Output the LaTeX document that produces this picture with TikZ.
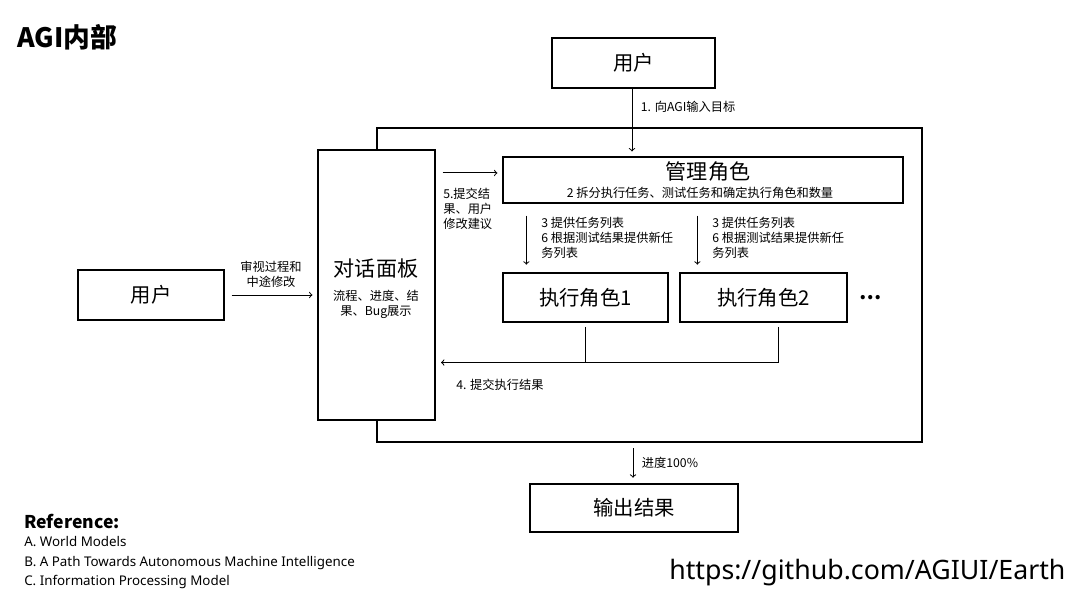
\documentclass[tikz,border=0pt]{standalone}
\usepackage{fontspec}
\setmainfont{Noto Sans CJK SC}
\newfontfamily\latinfont{Noto Sans}
\usetikzlibrary{positioning}

\tikzset{
  box/.style={draw, line width=0.9pt, fill=white, inner sep=0pt},
  big/.style={font=\fontsize{14.5}{17}\selectfont},
  lbl/.style={font=\fontsize{8.7}{10.7}\selectfont, inner sep=0pt, align=left},
  arr/.style={->, line width=0.7pt},
  link/.style={line width=0.7pt}
}

\begin{document}
\begin{tikzpicture}[x=0.025cm, y=-0.025cm]
	\useasboundingbox (0,0) rectangle (1080,608);
	% title
	\node[anchor=west, inner sep=0pt, font=\fontsize{19}{22}\selectfont\bfseries] (title) at (17,37) {AGI内部};
	% outer frame
	\node[box, fill=none, minimum width=13.625cm, minimum height=7.85cm] (agi) at (649.5,285) {};
	% boxes
	\node[box, big, minimum width=4.075cm, minimum height=1.25cm] (user1) at (633.5,63) {用户};
	\node[box, big, minimum width=3.65cm, minimum height=1.25cm] (user2) at (151,295) {用户};
	\node[box, minimum width=2.925cm, minimum height=6.75cm] (panel) at (376.5,285) {};
	\node[big, font=\fontsize{15}{18}\selectfont] (paneltitle) at (376,268) {对话面板};
	\node[lbl, align=center] (panelsub) at (376,304) {流程、进度、结\\果、Bug展示};
	\node[box, minimum width=10cm, minimum height=1.15cm] (mgr) at (703,180) {};
	\node[big, font=\fontsize{15}{18}\selectfont] (mgrtitle) at (708,172) {管理角色};
	\node[lbl] (mgrsub) at (700,193) {2 拆分执行任务、测试任务和确定执行角色和数量};
	\node[box, big, minimum width=4.125cm, minimum height=1.225cm] (exec1) at (585.5,297.5) {执行角色1};
	\node[box, big, minimum width=4.175cm, minimum height=1.225cm] (exec2) at (763.5,297.5) {执行角色2};
	\node[big, font=\fontsize{14}{17}\selectfont\bfseries] (more) at (871,298) {…};
	\node[box, big, minimum width=5.2cm, minimum height=1.2cm] (out) at (634,508) {输出结果};
	\coordinate (ret) at (441,362.5);

	% connectors
	\draw[arr, shorten >=3.5pt] (user1.south -| 632,0) -- (mgr.north -| 632,0) node[lbl, pos=0.27, right=6pt] {1. 向AGI输入目标};
	\draw[arr, shorten <=5pt, shorten >=3.5pt] (user2.east) -- (user2.east -| panel.west) node[lbl, align=center, midway, above=5pt] {审视过程和\\中途修改};
	\draw[arr, shorten <=5pt, shorten >=3.5pt] ([yshift=5pt]panel.east |- mgr.west) -- ([yshift=5pt]mgr.west);
	\node[lbl, anchor=north west] (sublbl) at (443,188) {5.提交结\\果、用户\\修改建议};
	\draw[arr, shorten <=8.5pt, shorten >=5.5pt] ([xshift=0.6cm]exec1.north west |- mgr.south) -- ([xshift=0.6cm]exec1.north west);
	\node[lbl, anchor=north west] (task1) at (541,217) {3 提供任务列表\\6 根据测试结果提供新任\\务列表};
	\draw[arr, shorten <=8.5pt, shorten >=5.5pt] ([xshift=0.45cm]exec2.north west |- mgr.south) -- ([xshift=0.45cm]exec2.north west);
	\node[lbl, anchor=north west] (task2) at (712,217) {3 提供任务列表\\6 根据测试结果提供新任\\务列表};
	\draw[link, shorten <=3pt] (exec1.south) -- (exec1.south |- ret);
	\draw[arr, shorten <=3pt] ([xshift=0.38cm]exec2.south) |- (ret);
	\node[lbl, anchor=west] (ret lbl) at (456,385) {4. 提交执行结果};
	\draw[arr, shorten <=4pt, shorten >=4pt] (agi.south -| 633,0) -- (out.north -| 633,0) node[lbl, midway, right=6pt] {进度100\%};

	% references
	\node[anchor=west, inner sep=0pt, font=\fontsize{12.5}{14}\selectfont\bfseries] (refhead) at (24,521) {Reference:};
	\node[anchor=north west, inner sep=0pt, align=left, font=\latinfont\fontsize{9.5}{14}\selectfont] (refs) at (24,536) {A. World Models\\B. A Path Towards Autonomous Machine Intelligence\\C. Information Processing Model};
	\node[anchor=west, inner sep=0pt, font=\latinfont\fontsize{19}{22}\selectfont] (url) at (669,573) {https://github.com/AGIUI/Earth};
\end{tikzpicture}
\end{document}
